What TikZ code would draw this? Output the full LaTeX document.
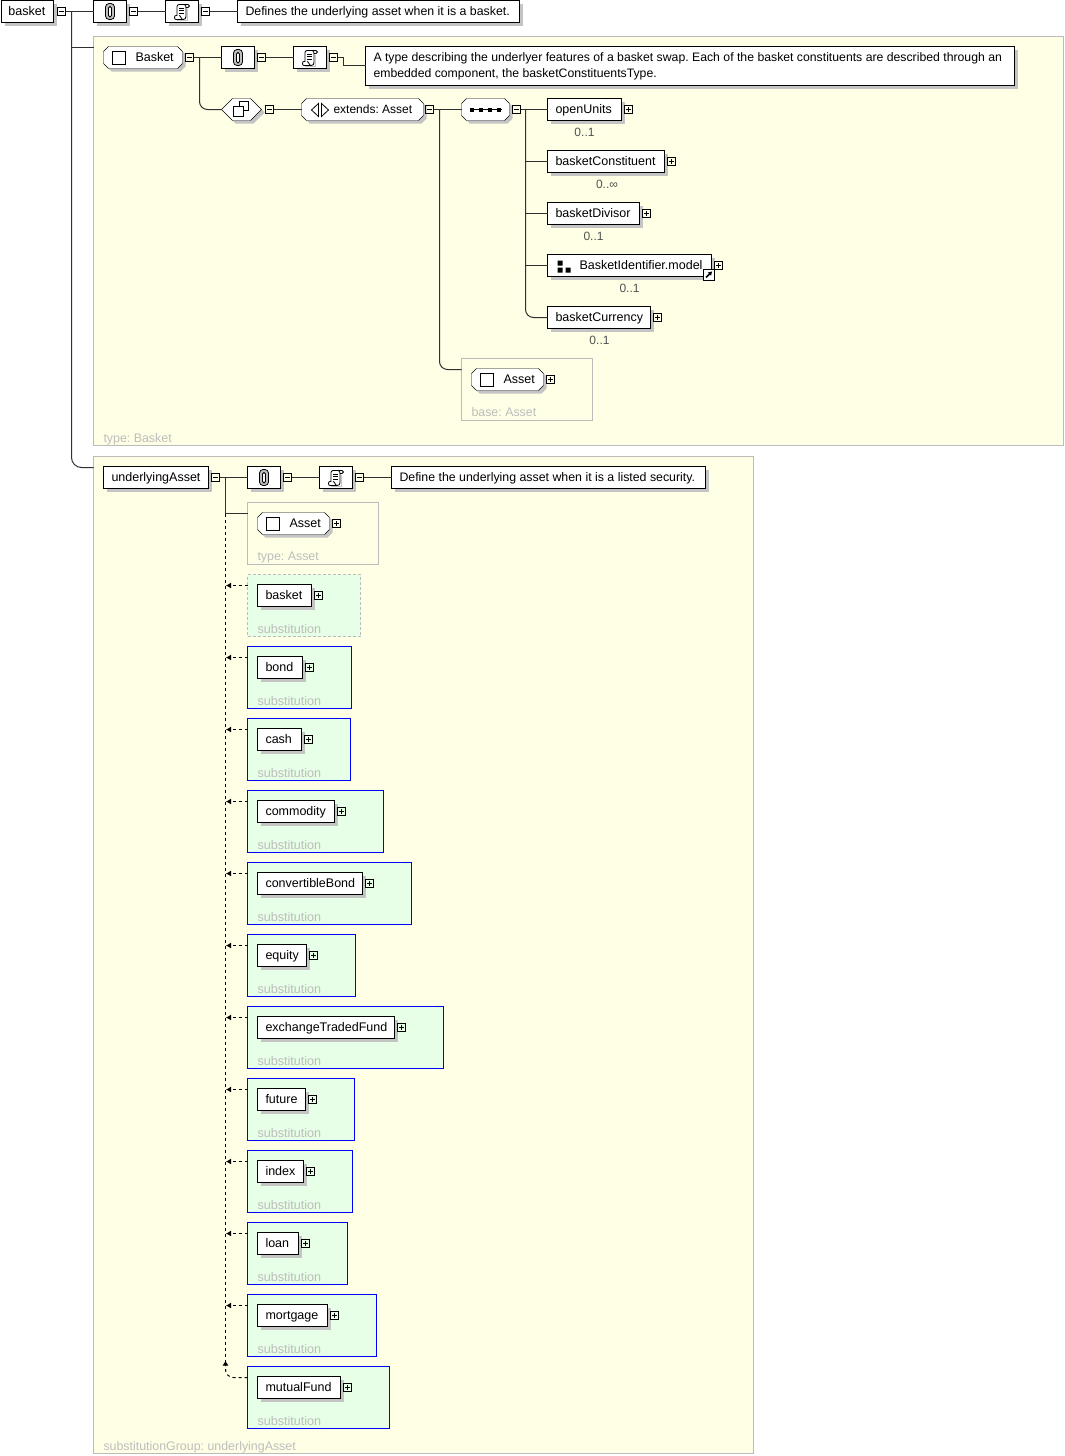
\documentclass[tikz,border=0pt]{standalone}
\usepackage{fontspec}
\setmainfont{Liberation Sans}
\usetikzlibrary{shadows,arrows.meta,calc}
\definecolor{panelfill}{HTML}{FFFFE6}
\definecolor{subfill}{HTML}{E6FFE6}
\definecolor{panelline}{HTML}{BBBBBB}
\definecolor{shadowc}{HTML}{C4C4C4}
\definecolor{linec}{HTML}{303030}
\definecolor{faint}{HTML}{BDBDBD}
\definecolor{multc}{HTML}{505050}
\frenchspacing
\tikzset{
  x=1pt,y=-1pt,
  every node/.style={font=\fontsize{12}{14}\selectfont,inner sep=0pt,outer sep=0pt},
  shad/.style={general shadow={fill=shadowc,shadow xshift=3pt,shadow yshift=-3pt}},
  plainbox/.style={shape=rectangle,draw=black,fill=white,shad},
  octpath/.style={draw=black,fill=white,shad},
  bareframe/.style={shape=rectangle},
  togbox/.style={shape=rectangle,draw=black,minimum size=8pt},
  yellowpanel/.style={shape=rectangle,draw=panelline,fill=panelfill},
  greypanel/.style={shape=rectangle,draw=panelline},
  subsolid/.style={shape=rectangle,draw=blue,fill=subfill},
  subdashed/.style={shape=rectangle,draw=panelline,dash pattern=on 3pt off 2pt,fill=subfill},
  conn/.style={draw=linec,line width=1pt},
  dconn/.style={draw=black,line width=1pt,dash pattern=on 3pt off 3pt},
  tipd/.style={-{Latex[length=5pt,width=6pt]}},
  faintlabel/.style={text=faint,anchor=base west,font=\fontsize{12.4}{14}\selectfont},
  sublabel/.style={text=faint,anchor=base west,font=\fontsize{12.6}{14}\selectfont},
  mult/.style={text=multc},
  ic/.style={draw=black,line width=.8pt},
}
\newcommand\bx[8]{%
  \pgfmathsetmacro\bxw{#4-(#2)}\pgfmathsetmacro\bxh{#5-(#3)}%
  \pgfmathsetmacro\bxcx{(#2+#4)/2}\pgfmathsetmacro\bxcy{(#3+#5)/2}%
  \node[#6,minimum width=\bxw pt,minimum height=\bxh pt] (#1) at (\bxcx,\bxcy)
    {\makebox[\bxw pt][l]{\vphantom{Ag}\hspace*{#7pt}\raisebox{-1.5pt}{\smash{\fontsize{12.5}{14}\selectfont #8}}}};%
}
% chamfered outline (#6 = size of the chamfer) with a named frame node on it
\newcommand\ob[7]{%
  \path[octpath] (#2+#6,#3) -- (#4-#6,#3) -- (#4,#3+#6) -- (#4,#5-#6) -- (#4-#6,#5) -- (#2+#6,#5) -- (#2,#5-#6) -- (#2,#3+#6) -- cycle;%
  \bx{#1}{#2}{#3}{#4}{#5}{bareframe}{32}{#7}%
}
\newcommand\tgm[3]{\node[togbox] (#1) at (#2,#3) {};\draw[ic] (#2-2.5,#3) -- (#2+2.5,#3);}
\newcommand\tgp[3]{\node[togbox] (#1) at (#2,#3) {};\draw[ic] (#2-2.5,#3) -- (#2+2.5,#3) (#2,#3-2.5) -- (#2,#3+2.5);}
\newcommand\clipicon[2]{\begin{scope}[shift={(#1,#2)}]
  \draw[ic,fill=black!25,rounded corners=3.6pt] (-4.5,-8) rectangle (4.5,8);
  \draw[ic,fill=white,rounded corners=1.5pt] (-1.5,-5) rectangle (1.5,5.5);
  \end{scope}}
\newcommand\scrollicon[2]{\begin{scope}[shift={(#1,#2)}]
  \draw[line width=1pt,draw=shadowc] (-5,9) -- (5,9) -- (5,-3);
  \draw[ic,fill=white] (-5,4) -- (-5,-5) .. controls (-5,-6) and (-4,-7) .. (-3,-7) -- (6,-7) .. controls (8,-7) and (8,-4) .. (6,-4) -- (4,-4) -- (4,5) .. controls (4,7) and (3,8) .. (1,8) -- (-6,8) .. controls (-8,8) and (-8,4) .. (-6,4) -- cycle;
  \draw[ic] (2,-7) .. controls (3.5,-7) and (4,-6) .. (4,-4);
  \draw[ic] (1,8) .. controls (-1,8) and (-1,4) .. (-3,4);
  \draw[ic] (-3,-3.5) -- (2,-3.5) (-3,-1) -- (2,-1) (-3,1.5) -- (2,1.5);
  \end{scope}}
\newcommand\cplxicon[2]{\draw[black,line width=1pt,fill=white] (#1-6.5,#2-6) rectangle (#1+6.5,#2+6.5);}
\begin{document}
\begin{tikzpicture}
\useasboundingbox (0,0) rectangle (1065,1456);
\begin{scope}[shift={(.5,.5)}]
% panels
\bx{pA}{93}{36}{1063}{445}{yellowpanel}{0}{}
\bx{pB}{93}{456}{753}{1453}{yellowpanel}{0}{}
\node[faintlabel] (ptA) at (103,442) {type: Basket};
\node[faintlabel] (ptB) at (103,1450) {substitutionGroup: underlyingAsset};
% top row
\bx{basket}{1}{0}{53}{22}{plainbox}{7}{basket}
\tgm{tA}{61}{11}
\bx{clipA}{93}{0}{126}{22}{plainbox}{0}{}
\clipicon{109.5}{11}
\tgm{tB}{133}{11}
\bx{scrA}{165}{0}{198}{22}{plainbox}{0}{}
\scrollicon{181.5}{11}
\tgm{tC}{205}{11}
\bx{docA}{237}{0}{519}{22}{plainbox}{8}{\fontsize{12.35}{14}\selectfont Defines the underlying asset when it is a basket.}
\draw[conn] (tA.east) -- (clipA.west);
\draw[conn] (tB.east) -- (scrA.west);
\draw[conn] (tC.east) -- (docA.west);
\coordinate (vA) at (71,11);
\draw[conn] (vA) |- ([yshift=-11pt]pA.north west);
\draw[conn,rounded corners=10pt] (vA) |- ([yshift=-11pt]pB.north west);
% Basket type
\ob{bkt}{103}{46}{182}{68}{5}{Basket}
\cplxicon{118.5}{57}
\tgm{tD}{189}{57}
\bx{clipB}{221}{46}{254}{68}{plainbox}{0}{}
\clipicon{237.5}{57}
\tgm{tE}{261}{57}
\bx{scrB}{293}{46}{326}{68}{plainbox}{0}{}
\scrollicon{309.5}{57}
\tgm{tF}{333}{57}
\bx{docB}{365}{46}{1014}{85}{plainbox}{8}{\raisebox{1.5pt}{\parbox[c]{640pt}{\fontsize{12.25}{16}\selectfont A type describing the underlyer features of a basket swap. Each of the basket constituents are described through an\\embedded component, the basketConstituentsType.}}}
\draw[conn] (tD.east) -- (clipB.west);
\draw[conn] (tE.east) -- (scrB.west);
\coordinate (jog) at (343,65);
\draw[conn] (tF.east) -| (jog) -- (docB.west |- jog);
\path[octpath] (232,98) -- (250,98) -- (261,109) -- (250,120) -- (232,120) -- (221,109) -- cycle;
\bx{cmplx}{221}{98}{261}{120}{bareframe}{0}{}
\draw[black,line width=1pt,fill=white] (239,101) rectangle (248,110);
\draw[black,line width=1pt,fill=white] (233,106) rectangle (243,116);
\coordinate (vB) at (199,57);
\draw[conn,rounded corners=8pt] (vB) |- (cmplx.west);
\tgm{tG}{269}{109}
\ob{ext}{301}{98}{423}{120}{5}{\fontsize{12}{14}\selectfont extends: Asset}
\draw[ic] (318,103) -- (311,109.5) -- (318,116) -- cycle;
\draw[ic] (321,103) -- (328,109.5) -- (321,116) -- cycle;
\draw[conn] (tG.east) -- (ext.west);
\tgm{tH}{429}{109}
\ob{seq}{461}{98}{509}{120}{5}{}
\draw[black,line width=1pt] (469,109) -- (501,109);
\foreach \sx in {471,480,489,498.5}{\fill[black] (\sx-2,107) rectangle (\sx+2,111);}
\draw[conn] (tH.east) -- (seq.west);
\tgm{tI}{516}{109}
% children
\bx{cA}{547}{98}{621}{120}{plainbox}{8}{openUnits}
\tgp{pcA}{628}{109}
\node[mult] (mA) at (584,132) {0..1};
\bx{cB}{547}{150}{664}{172}{plainbox}{8}{basketConstituent}
\tgp{pcB}{671}{161}
\node[mult] (mB) at (606.5,184) {0..∞};
\bx{cC}{547}{202}{639}{224}{plainbox}{8}{basketDivisor}
\tgp{pcC}{646}{213}
\node[mult] (mC) at (593,236) {0..1};
\bx{cD}{547}{254}{711}{276}{plainbox}{32}{BasketIdentifier.model}
\fill[black] (557,260) rectangle (562,265) (557,267) rectangle (562,272) (565,267) rectangle (570,272);
\tgp{pcD}{718}{265}
\bx{lnk}{703}{269}{714}{279}{shape=rectangle,draw=black,fill=white}{0}{}
\draw[black,line width=1.6pt,-{Latex[length=4pt,width=5pt]}] (705.5,277) -- (711.8,270.8);
\node[mult] (mD) at (629,288) {0..1};
\bx{cE}{547}{306}{650}{328}{plainbox}{8}{basketCurrency}
\tgp{pcE}{657}{317}
\node[mult] (mE) at (599,340) {0..1};
\coordinate (vC) at (525,109);
\draw[conn] (tI.east) -- (cA.west);
\draw[conn] (vC |- cB.west) -- (cB.west);
\draw[conn] (vC |- cC.west) -- (cC.west);
\draw[conn] (vC |- cD.west) -- (cD.west);
\draw[conn,rounded corners=8pt] (vC) |- (cE.west);
% base Asset
\bx{baseP}{461}{358}{592}{420}{greypanel}{0}{}
\ob{baseA}{471}{368}{543}{390}{5}{Asset}
\cplxicon{486.5}{379}
\tgp{pbase}{550}{379}
\node[faintlabel] (lbase) at (471,416) {base: Asset};
\coordinate (vD) at (439,109);
\draw[conn,rounded corners=8pt] (vD) |- ([yshift=-11pt]baseP.north west);
% underlyingAsset
\bx{ua}{103}{466}{208}{488}{plainbox}{8}{underlyingAsset}
\tgm{tJ}{215}{477}
\bx{clipC}{247}{466}{280}{488}{plainbox}{0}{}
\clipicon{263.5}{477}
\tgm{tK}{287}{477}
\bx{scrC}{319}{466}{352}{488}{plainbox}{0}{}
\scrollicon{335.5}{477}
\tgm{tL}{359}{477}
\bx{docC}{391}{466}{705}{488}{plainbox}{8}{\fontsize{12.35}{14}\selectfont Define the underlying asset when it is a listed security.}
\draw[conn] (tJ.east) -- (clipC.west);
\draw[conn] (tK.east) -- (scrC.west);
\draw[conn] (tL.east) -- (docC.west);
\bx{typeP}{247}{502}{378}{564}{greypanel}{0}{}
\ob{typeA}{257}{512}{329}{534}{5}{Asset}
\cplxicon{272.5}{523}
\tgp{ptype}{336}{523}
\node[faintlabel] (ltype) at (257,560) {type: Asset};
\coordinate (vE) at (225,477);
\coordinate (vF) at (225,513);
\draw[conn] (vE) -- (vF) -- (typeP.west |- vF);
\coordinate (vG) at (225,1362);
\draw[dconn] (vF) -- (vG);
% substitutions
\foreach \lbl/\br/\pr/\sty [count=\i from 0] in {
  basket/311/360/subdashed, bond/302/351/subsolid, cash/301/350/subsolid,
  commodity/334/383/subsolid, convertibleBond/362/411/subsolid, equity/306/355/subsolid,
  exchangeTradedFund/394/443/subsolid, future/305/354/subsolid, index/303/352/subsolid,
  loan/298/347/subsolid, mortgage/327/376/subsolid, mutualFund/340/389/subsolid}{
  \pgfmathtruncatemacro\yt{574+72*\i}
  \pgfmathtruncatemacro\yb{\yt+62}
  \pgfmathtruncatemacro\ya{\yt+11}
  \pgfmathtruncatemacro\yc{\yt+21}
  \pgfmathtruncatemacro\tx{\br+7}
  \pgfmathtruncatemacro\yl{\yt+59}
  \pgfmathtruncatemacro\yba{\yt+10}
  \pgfmathtruncatemacro\ybb{\yt+32}
  \bx{sp\i}{247}{\yt}{\pr}{\yb}{\sty}{0}{}
  \bx{sb\i}{257}{\yba}{\br}{\ybb}{plainbox}{8}{\lbl}
  \tgp{st\i}{\tx}{\yc}
  \node[sublabel] (sl\i) at (257,\yl) {substitution};
  \ifnum\i<11
    \coordinate (sa\i) at (225.5,\ya);
    \draw[dconn,tipd] ([yshift=-11pt]sp\i.north west) -- (sa\i);
  \else
    \coordinate (sa\i) at (225,1360);
    \draw[dconn,tipd,rounded corners=8pt] ([yshift=-11pt]sp\i.north west) -| (sa\i);
  \fi
}
\end{scope}
\end{tikzpicture}
\end{document}
